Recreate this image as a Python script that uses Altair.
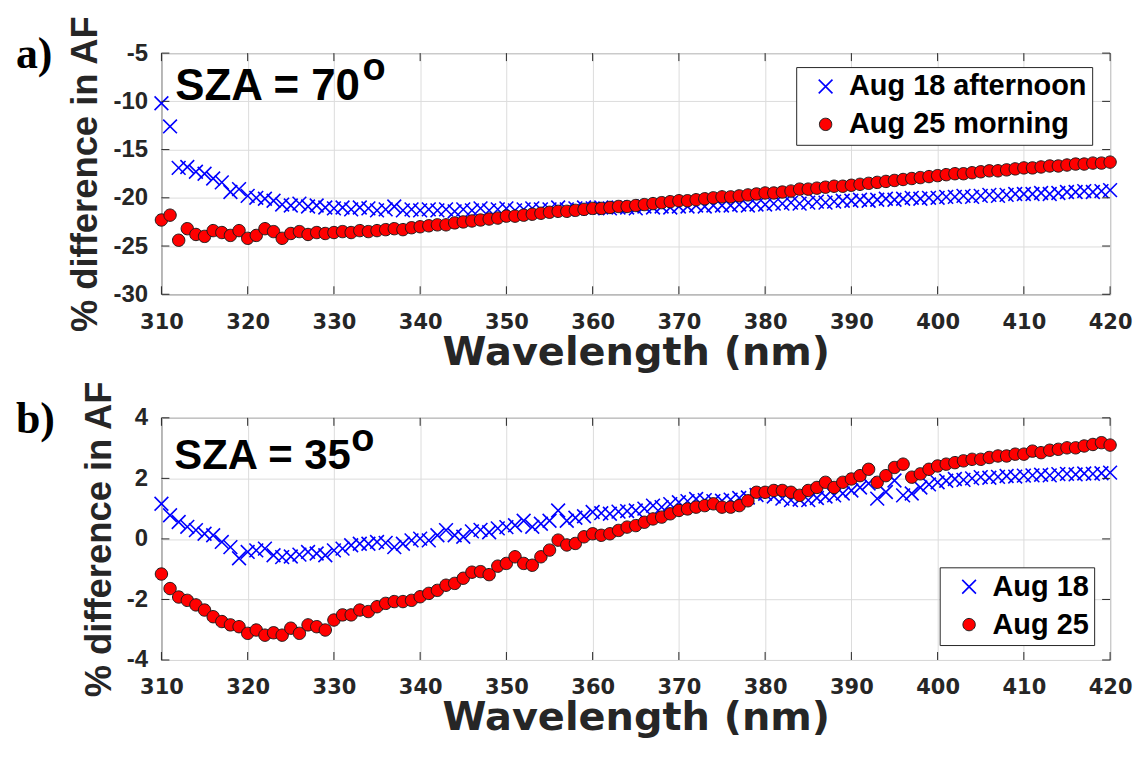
import altair as alt
import pandas as pd

wavelength = list(range(310, 421))

a_aug18 = [-10.2, -12.6, -16.9, -16.8, -17.3, -17.5, -18.0, -18.4, -19.4, -19.1,
           -19.8, -20.0, -20.1, -20.3, -20.7, -20.8, -20.6, -20.9, -20.8, -21.0,
           -21.1, -21.0, -21.2, -21.0, -21.1, -21.3, -21.2, -20.9, -21.3, -21.2,
           -21.3, -21.2, -21.3, -21.2, -21.4, -21.2, -21.3, -21.1, -21.3, -21.2,
           -21.1, -21.3, -21.2, -21.1, -21.2, -21.2, -21.0, -21.2, -21.1, -21.0,
           -21.1, -21.0, -21.1, -21.0, -21.0, -21.1, -20.9, -21.0, -20.9, -21.0,
           -20.9, -20.9, -20.8, -20.9, -20.8, -20.8, -20.8, -20.7, -20.8, -20.7,
           -20.7, -20.6, -20.6, -20.5, -20.6, -20.5, -20.4, -20.5, -20.4, -20.3,
           -20.3, -20.2, -20.3, -20.2, -20.1, -20.2, -20.1, -20.0, -20.1, -20.0,
           -20.0, -19.9, -19.9, -19.8, -19.9, -19.8, -19.7, -19.8, -19.7, -19.6,
           -19.6, -19.6, -19.5, -19.6, -19.5, -19.4, -19.4, -19.3, -19.4, -19.3,
           -19.2]

a_aug25 = [-22.3, -21.8, -24.4, -23.2, -23.8, -24.0, -23.4, -23.6, -23.9, -23.4,
           -24.2, -23.9, -23.2, -23.5, -24.2, -23.7, -23.5, -23.8, -23.6, -23.7,
           -23.6, -23.5, -23.6, -23.4, -23.5, -23.4, -23.3, -23.2, -23.3, -23.1,
           -23.0, -22.9, -22.8, -22.8, -22.6, -22.5, -22.4, -22.3, -22.2, -22.1,
           -21.9, -21.9, -21.8, -21.7, -21.6, -21.5, -21.4, -21.4, -21.3, -21.2,
           -21.1, -21.1, -21.0, -20.9, -20.9, -20.8, -20.7, -20.6, -20.5, -20.4,
           -20.3, -20.3, -20.2, -20.1, -20.0, -19.9, -19.9, -19.8, -19.7, -19.6,
           -19.5, -19.5, -19.4, -19.3, -19.1, -19.1, -19.0, -18.9, -18.8, -18.8,
           -18.7, -18.6, -18.5, -18.4, -18.3, -18.2, -18.1, -18.0, -17.9, -17.8,
           -17.7, -17.6, -17.5, -17.5, -17.4, -17.3, -17.2, -17.2, -17.1, -17.0,
           -16.9, -16.9, -16.8, -16.7, -16.7, -16.6, -16.5, -16.5, -16.4, -16.4,
           -16.3]

b_aug18 = [1.16, 0.78, 0.56, 0.40, 0.29, 0.17, 0.12, -0.10, -0.27, -0.64,
           -0.43, -0.38, -0.32, -0.54, -0.60, -0.58, -0.52, -0.43, -0.48, -0.54,
           -0.38, -0.32, -0.21, -0.16, -0.16, -0.10, -0.13, -0.27, -0.16, -0.05,
           0.01, -0.05, 0.12, 0.29, 0.12, 0.07, 0.25, 0.30, 0.22, 0.35,
           0.39, 0.45, 0.60, 0.40, 0.50, 0.60, 0.94, 0.60, 0.70, 0.75,
           0.89, 0.85, 0.83, 0.90, 0.92, 0.94, 1.00, 1.10, 1.05, 1.15,
           1.21, 1.25, 1.32, 1.28, 1.25, 1.26, 1.30, 1.35, 1.37, 1.45,
           1.49, 1.40, 1.33, 1.28, 1.30, 1.28, 1.35, 1.40, 1.44, 1.50,
           1.60, 1.70, 1.83, 1.33, 1.55, 1.93, 1.44, 1.50, 1.70, 1.80,
           1.87, 1.92, 1.98, 1.95, 2.00, 2.04, 2.02, 2.05, 2.08, 2.06,
           2.09, 2.10, 2.12, 2.10, 2.14, 2.15, 2.13, 2.16, 2.15, 2.17,
           2.19]

b_aug25 = [-1.16, -1.64, -1.92, -2.03, -2.18, -2.35, -2.57, -2.73, -2.84, -2.90,
           -3.12, -3.01, -3.18, -3.10, -3.18, -2.95, -3.12, -2.84, -2.90, -3.01,
           -2.68, -2.51, -2.51, -2.35, -2.40, -2.24, -2.13, -2.07, -2.07, -2.03,
           -1.91, -1.80, -1.70, -1.53, -1.47, -1.30, -1.10, -1.08, -1.18, -0.90,
           -0.81, -0.59, -0.81, -0.87, -0.59, -0.37, -0.04, -0.20, -0.15, 0.07,
           0.17, 0.12, 0.17, 0.28, 0.39, 0.44, 0.55, 0.66, 0.72, 0.83,
           0.94, 0.99, 1.05, 1.10, 1.16, 1.05, 1.05, 1.10, 1.26, 1.54,
           1.54, 1.60, 1.60, 1.54, 1.44, 1.60, 1.70, 1.87, 1.70, 1.87,
           1.98, 2.09, 2.30, 1.87, 2.09, 2.36, 2.47, 2.04, 2.15, 2.30,
           2.41, 2.47, 2.52, 2.58, 2.63, 2.63, 2.69, 2.74, 2.74, 2.80,
           2.80, 2.90, 2.85, 2.93, 2.96, 3.01, 3.01, 3.07, 3.12, 3.18,
           3.10]

x_ticks = list(range(310, 421, 10))
a_y_ticks = [-30, -25, -20, -15, -10, -5]
b_y_ticks = [-4, -2, 0, 2, 4]

a_labels = ["Aug 18 afternoon", "Aug 25 morning"]
b_labels = ["Aug 18", "Aug 25"]

a_sza = ["SZA = 70", "o"]
b_sza = ["SZA = 35", "o"]

X_PATH = "M-1,-1L1,1M-1,1L1,-1"
O_PATH = "M0.9,0A0.9,0.9,0,1,1,-0.9,0A0.9,0.9,0,1,1,0.9,0Z"
INK = "#262626"
W = 952
FONT = "Liberation Sans"
WIDE = "DejaVu Sans"


def panel(blue, red, labels, ydom, yticks, H, legx, legy, sza, sza_wl, sza_v, sza_fs, letter):
    n = len(wavelength)
    df = pd.DataFrame({
        "wl": wavelength + wavelength,
        "v": blue + red,
        "series": [labels[0]] * n + [labels[1]] * n,
    })
    leg = alt.Legend(
        title=None, orient="none", legendX=legx, legendY=legy,
        strokeColor=INK, fillColor="white", padding=5, symbolOffset=10,
        rowPadding=8, labelFont=FONT, labelFontSize=29, labelFontWeight="bold",
        labelColor="black", labelLimit=500, labelOffset=9, symbolSize=190,
        symbolStrokeWidth=1.5,
    )
    xs = alt.Scale(domain=[310, 420], nice=False, zero=False)
    ys = alt.Scale(domain=ydom, nice=False, zero=False)
    xaxis = alt.Axis(values=x_ticks, title="Wavelength (nm)", labelExpr="'' + datum.value",
                     labelPadding=17, titlePadding=0, labelFlush=False, labelOverlap=False,
                     labelFont=WIDE, labelFontSize=21, titleFont=WIDE, titleFontSize=40)
    yaxis = alt.Axis(values=yticks, title="% difference in AF", labelExpr="'' + datum.value",
                     labelPadding=14, titlePadding=8, labelFlush=False, labelOverlap=False,
                     labelFont=FONT, labelFontSize=24, titleFont=FONT, titleFontSize=36.5)
    x = alt.X("wl:Q", scale=xs, axis=xaxis)
    y = alt.Y("v:Q", scale=ys, axis=yaxis)
    pts = alt.Chart(df).mark_point(opacity=1, size=190).encode(
        x=x, y=y,
        shape=alt.Shape("series:N", scale=alt.Scale(domain=labels, range=[X_PATH, O_PATH]), legend=leg),
        stroke=alt.Stroke("series:N", scale=alt.Scale(domain=labels, range=["#0000ff", "#1a1a1a"]), legend=leg),
        fill=alt.Fill("series:N", scale=alt.Scale(domain=labels, range=["#0000ff", "#ff0000"]), legend=leg),
        strokeWidth=alt.StrokeWidth("series:N", scale=alt.Scale(domain=labels, range=[1.6, 1.0]), legend=None),
    )

    xt = pd.DataFrame({"wl": x_ticks})
    yt = pd.DataFrame({"v": yticks})
    tick_top = alt.Chart(xt).mark_rule(color=INK).encode(
        x=x, y=alt.value(0), y2=alt.value(8))
    tick_bot = alt.Chart(xt).mark_rule(color=INK).encode(
        x=x, y=alt.value(H), y2=alt.value(H - 8))
    tick_left = alt.Chart(yt).mark_rule(color=INK).encode(
        y=y, x=alt.value(0), x2=alt.value(8))
    tick_right = alt.Chart(yt).mark_rule(color=INK).encode(
        y=y, x=alt.value(W), x2=alt.value(W - 8))

    ann = pd.DataFrame({"wl": sza_wl, "v": sza_v, "t": sza, "fs": sza_fs})
    ann_text = alt.Chart(ann).mark_text(
        align="left", baseline="alphabetic", font=FONT, fontWeight="bold", color="black"
    ).encode(
        x=x, y=y, text="t:N",
        size=alt.Size("fs:Q", scale=None, legend=None),
    )
    letter_text = alt.Chart(pd.DataFrame({"t": [letter]})).mark_text(
        align="left", baseline="middle", font="Liberation Serif", fontWeight="bold",
        fontSize=44, color="black"
    ).encode(text="t:N", x=alt.value(-146), y=alt.value(2))

    return alt.layer(pts, tick_top, tick_bot, tick_left, tick_right, ann_text, letter_text).properties(
        width=W, height=H)


pa = panel(a_aug18, a_aug25, a_labels, [-30, -5], a_y_ticks, 242, 637, 14,
           a_sza, [311.6, 333.3], [-9.86, -7.79], [44, 38], "a)")
pb = panel(b_aug18, b_aug25, b_labels, [-4, 4], b_y_ticks, 243, 781, 150,
           b_sza, [311.5, 332.0], [2.31, 2.89], [42, 38], "b)")

chart = alt.vconcat(pa, pb, spacing=6).resolve_scale(
    x="independent", y="independent", shape="independent", fill="independent",
    stroke="independent", strokeWidth="independent"
).resolve_legend(
    shape="independent", fill="independent", stroke="independent"
).configure(
    padding={"left": 15, "top": 13, "right": 5, "bottom": 5}, background="white"
).configure_view(
    stroke=INK, strokeWidth=1
).configure_axis(
    grid=True, gridColor="#dcdcdc", domain=False, ticks=False,
    labelFontWeight="bold", labelColor=INK,
    titleFontWeight="bold", titleColor=INK,
)

chart.save("out.html", embed_options={"renderer": "svg", "actions": False})
